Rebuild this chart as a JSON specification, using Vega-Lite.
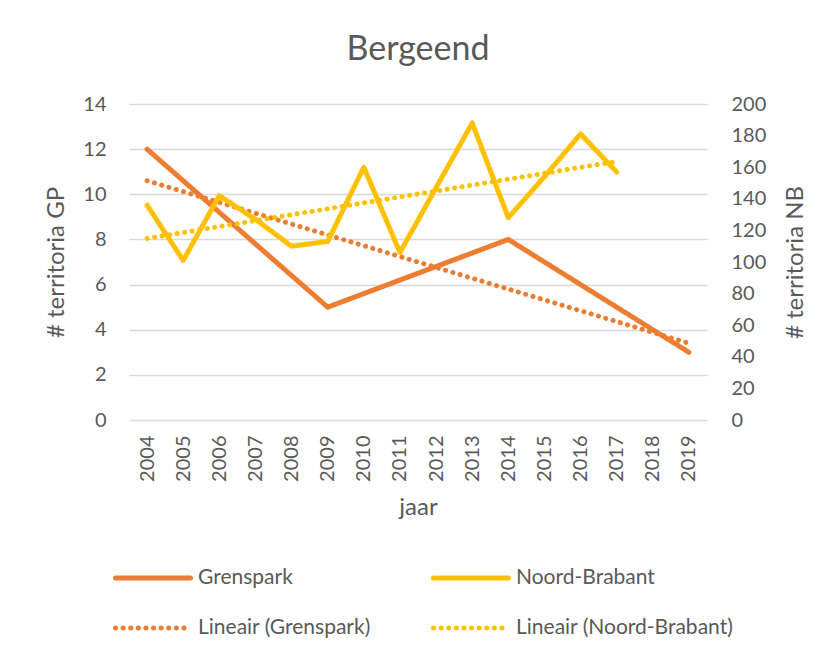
{
  "$schema": "https://vega.github.io/schema/vega-lite/v6.json",
  "autosize": {"type": "none"},
  "width": 578,
  "height": 316,
  "padding": {"left": 129, "top": 104, "right": 122, "bottom": 235},
  "background": "white",
  "title": {"text": "Bergeend", "fontSize": 34, "font": "Lato", "fontWeight": "normal", "color": "#595959", "anchor": "middle", "offset": 27},
  "datasets": {
    "gp": [
      {"jaar": 2004, "waarde": 12, "reeks": "Grenspark", "trend": "Lineair (Grenspark)"},
      {"jaar": 2009, "waarde": 5, "reeks": "Grenspark", "trend": "Lineair (Grenspark)"},
      {"jaar": 2014, "waarde": 8, "reeks": "Grenspark", "trend": "Lineair (Grenspark)"},
      {"jaar": 2019, "waarde": 3, "reeks": "Grenspark", "trend": "Lineair (Grenspark)"}
    ],
    "nb": [
      {"jaar": 2004, "waarde": 136, "reeks": "Noord-Brabant", "trend": "Lineair (Noord-Brabant)"},
      {"jaar": 2005, "waarde": 101, "reeks": "Noord-Brabant", "trend": "Lineair (Noord-Brabant)"},
      {"jaar": 2006, "waarde": 142, "reeks": "Noord-Brabant", "trend": "Lineair (Noord-Brabant)"},
      {"jaar": 2007, "waarde": 127, "reeks": "Noord-Brabant", "trend": "Lineair (Noord-Brabant)"},
      {"jaar": 2008, "waarde": 110, "reeks": "Noord-Brabant", "trend": "Lineair (Noord-Brabant)"},
      {"jaar": 2009, "waarde": 113, "reeks": "Noord-Brabant", "trend": "Lineair (Noord-Brabant)"},
      {"jaar": 2010, "waarde": 160, "reeks": "Noord-Brabant", "trend": "Lineair (Noord-Brabant)"},
      {"jaar": 2011, "waarde": 106, "reeks": "Noord-Brabant", "trend": "Lineair (Noord-Brabant)"},
      {"jaar": 2012, "waarde": 147, "reeks": "Noord-Brabant", "trend": "Lineair (Noord-Brabant)"},
      {"jaar": 2013, "waarde": 188, "reeks": "Noord-Brabant", "trend": "Lineair (Noord-Brabant)"},
      {"jaar": 2014, "waarde": 128, "reeks": "Noord-Brabant", "trend": "Lineair (Noord-Brabant)"},
      {"jaar": 2015, "waarde": 154, "reeks": "Noord-Brabant", "trend": "Lineair (Noord-Brabant)"},
      {"jaar": 2016, "waarde": 181, "reeks": "Noord-Brabant", "trend": "Lineair (Noord-Brabant)"},
      {"jaar": 2017, "waarde": 157, "reeks": "Noord-Brabant", "trend": "Lineair (Noord-Brabant)"}
    ]
  },
  "config": {
    "font": "Lato",
    "view": {"stroke": null},
    "axis": {"labelColor": "#595959", "titleColor": "#595959", "labelFont": "Lato", "titleFont": "Lato", "labelFontSize": 20, "titleFontSize": 24, "titleFontWeight": "normal", "domain": false, "ticks": false, "labelOverlap": false},
    "legend": {"labelColor": "#595959", "labelFont": "Lato", "labelFontSize": 21, "labelLimit": 400}
  },
  "encoding": {
    "x": {"field": "jaar", "type": "quantitative", "scale": {"domain": [2003.5, 2019.5], "nice": false, "zero": false},
      "axis": {"title": "jaar", "values": [2004, 2005, 2006, 2007, 2008, 2009, 2010, 2011, 2012, 2013, 2014, 2015, 2016, 2017, 2018, 2019], "format": "d", "labelAngle": -90, "grid": false, "labelPadding": 15, "titlePadding": 14}},
    "color": {"field": "reeks", "type": "nominal", "scale": {"domain": ["Grenspark", "Noord-Brabant", "Lineair (Grenspark)", "Lineair (Noord-Brabant)"], "range": ["#ED7D31", "#FFC000", "#ED7D31", "#FFC000"]},
      "legend": {"title": null, "orient": "none", "legendX": -16, "legendY": 434, "columns": 2, "symbolType": "stroke", "symbolSize": 5625, "columnPadding": 52, "rowPadding": -7, "labelOffset": 5,
        "values": ["Grenspark", "Lineair (Grenspark)", "Noord-Brabant", "Lineair (Noord-Brabant)"],
        "encode": {"symbols": {"update": {"strokeCap": {"value": "round"}}}}}},
    "strokeDash": {"field": "reeks", "type": "nominal", "scale": {"domain": ["Grenspark", "Noord-Brabant", "Lineair (Grenspark)", "Lineair (Noord-Brabant)"], "range": [[1, 0], [1, 0], [0.1, 7.5], [0.1, 7.5]]}, "legend": {"title": null}},
    "strokeWidth": {"field": "reeks", "type": "nominal", "scale": {"domain": ["Grenspark", "Noord-Brabant", "Lineair (Grenspark)", "Lineair (Noord-Brabant)"], "range": [5, 5, 3.2, 3.2]}, "legend": {"title": null}}
  },
  "layer": [
    {
      "data": {"name": "gp"},
      "layer": [
        {
          "mark": {"type": "line", "strokeCap": "round", "strokeJoin": "round"},
          "encoding": {
            "y": {"field": "waarde", "type": "quantitative", "scale": {"domain": [0, 14], "nice": false},
              "axis": {"title": "# territoria GP", "values": [0, 2, 4, 6, 8, 10, 12, 14], "labelOverlap": false, "grid": true, "gridColor": "#D9D9D9", "gridWidth": 1.5, "labelPadding": 23, "titlePadding": 14}}
          }
        },
        {
          "transform": [{"regression": "waarde", "on": "jaar", "groupby": ["trend"]}, {"fold": ["trend"], "as": ["k", "reeks"]}],
          "mark": {"type": "line", "strokeCap": "round"},
          "encoding": {"y": {"field": "waarde", "type": "quantitative"}}
        }
      ]
    },
    {
      "data": {"name": "nb"},
      "layer": [
        {
          "mark": {"type": "line", "strokeCap": "round", "strokeJoin": "round"},
          "encoding": {
            "y": {"field": "waarde", "type": "quantitative", "scale": {"domain": [0, 200], "nice": false},
              "axis": {"title": "# territoria NB", "orient": "right", "titleAngle": 270, "titleBaseline": "top", "values": [0, 20, 40, 60, 80, 100, 120, 140, 160, 180, 200], "labelOverlap": false, "tickCount": 11, "grid": false, "labelPadding": 24, "titlePadding": 18}}
          }
        },
        {
          "transform": [{"regression": "waarde", "on": "jaar", "groupby": ["trend"]}, {"fold": ["trend"], "as": ["k", "reeks"]}],
          "mark": {"type": "line", "strokeCap": "round"},
          "encoding": {"y": {"field": "waarde", "type": "quantitative"}}
        }
      ]
    }
  ],
  "resolve": {"scale": {"y": "independent"}}
}
